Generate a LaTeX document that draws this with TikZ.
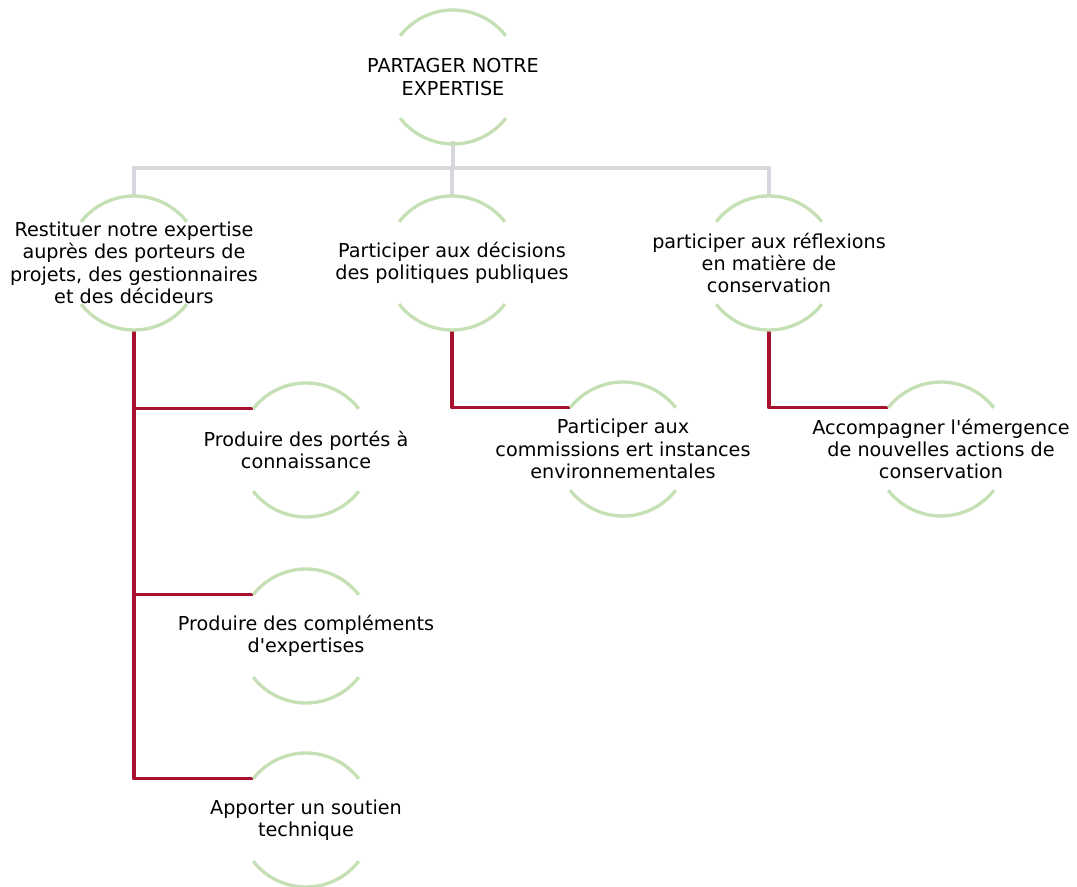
\documentclass[tikz,border=0pt]{standalone}
\usepackage{fontspec}
\setmainfont{DejaVu Sans}
\usetikzlibrary{calc}

\definecolor{ringgreen}{RGB}{197,224,180}
\definecolor{linkgray}{RGB}{215,215,222}
\definecolor{linkred}{RGB}{166,18,48}

\begin{document}
\begin{tikzpicture}[x=0.75pt,y=0.75pt,
    ring/.pic={\draw[ringgreen, line width=2.5pt] (38:67) arc (38:142:67);
               \draw[ringgreen, line width=2.5pt] (218:67) arc (218:322:67);},
    txt/.style={align=center, inner sep=0pt, font=\fontsize{14.4}{16.8}\selectfont},
    graylink/.style={draw=linkgray, line width=3pt},
    redlink/.style={draw=linkred, line width=2.5pt, line join=round}]
    \useasboundingbox (0,0) rectangle (1077,886);

    \coordinate (top) at (453,809);
    \coordinate (rest) at (134,623);
    \coordinate (deci) at (452,623);
    \coordinate (refl) at (769,623);
    \coordinate (porte) at (306,436);
    \coordinate (compl) at (306,250);
    \coordinate (sout) at (306,66);
    \coordinate (comm) at (623,437);
    \coordinate (accomp) at (941,437);

    % liens gris
    \draw[graylink] ($(top)+(270:64)$) -- ($(top)+(0,-91)$) coordinate (bus);
    \draw[graylink] ($(rest)+(90:67)$) |- (bus) -| ($(refl)+(90:67)$);
    \draw[graylink] ($(deci)+(90:67)$) -- (deci |- bus);

    % liens rouges
    \draw[redlink] ($(rest)+(270:67)$) |- ($(porte)+(142:67)$);
    \draw[redlink] ($(rest)+(270:67)$) |- ($(compl)+(142:67)$);
    \draw[redlink] ($(rest)+(270:67)$) |- ($(sout)+(142:67)$);
    \draw[redlink] ($(deci)+(270:67)$) |- ($(comm)+(142:67)$);
    \draw[redlink] ($(refl)+(270:67)$) |- ($(accomp)+(142:67)$);

    \foreach \c in {top,rest,deci,refl,porte,compl,sout,comm,accomp}
        \pic at (\c) {ring};

    \node[txt] (topt) at (top) {PARTAGER NOTRE\\EXPERTISE};
    \node[txt] (restt) at (rest) {Restituer notre expertise\\auprès des porteurs de\\projets, des gestionnaires\\et des décideurs};
    \node[txt] (decit) at (deci) {Participer aux décisions\\des politiques publiques};
    \node[txt] (reflt) at (refl) {participer aux réflexions\\en matière de\\conservation};
    \node[txt] (portet) at (porte) {Produire des portés à\\connaissance};
    \node[txt] (complt) at (compl) {Produire des compléments\\d\textquotesingle expertises};
    \node[txt] (soutt) at (sout) {Apporter un soutien\\technique};
    \node[txt] (commt) at (comm) {Participer aux\\commissions ert instances\\environnementales};
    \node[txt] (accompt) at (accomp) {Accompagner l\textquotesingle émergence\\de nouvelles actions de\\conservation};
\end{tikzpicture}
\end{document}
